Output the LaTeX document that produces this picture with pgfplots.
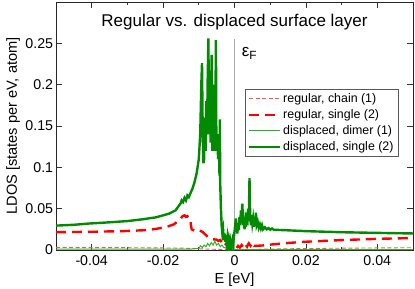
\documentclass[border=0pt]{standalone}
\usepackage{pgfplots}
\pgfplotsset{compat=1.18}
\usepackage{fontspec}
\setmainfont{Liberation Sans}
\usetikzlibrary{calc}
\definecolor{ggreen}{RGB}{0,139,0}
\definecolor{lgreen}{RGB}{40,180,40}
\definecolor{gred}{RGB}{255,0,0}
\definecolor{lred}{RGB}{255,80,80}
\definecolor{fgray}{RGB}{170,170,170}
\begin{document}
\begin{tikzpicture}
\begin{axis}[
  scale only axis,
  width=357pt, height=248pt,
  xmin=-0.05, xmax=0.05, ymin=0, ymax=0.3,
  scaled ticks=false,
  axis line style={black!85, line width=0.9pt},
  tick align=inside,
  major tick length=6pt, minor tick length=3.5pt,
  every tick/.style={black!80, line width=0.7pt},
  xtick={-0.04,-0.02,0,0.02,0.04},
  xticklabels={-0.04,-0.02,0,0.02,0.04},
  minor xtick={-0.05,-0.03,-0.01,0.01,0.03,0.05},
  ytick={0,0.05,0.1,0.15,0.2,0.25},
  yticklabels={0,0.05,0.1,0.15,0.2,0.25},
  /pgf/number format/assume math mode=true,
  tick label style={font=\fontsize{14.2}{16}\selectfont},
  xticklabel style={anchor=base, yshift=-15pt, inner sep=0pt},
  yticklabel style={anchor=east, inner sep=0pt, xshift=-2.7pt},
  xlabel={E [eV]},
  ylabel={LDOS [states per eV, atom]},
  label style={font=\fontsize{14.6}{17}\selectfont},
  xlabel style={at={(axis description cs:0.5,-0.134)}, anchor=base, inner sep=0pt},
  ylabel style={at={(axis description cs:-0.1204,0.5)}, anchor=center, inner sep=0pt},
  legend style={at={(axis description cs:0.96,0.648)}, anchor=north east,
    font=\fontsize{12.4}{14}\selectfont, draw=black!65,
    inner xsep=3pt, inner ysep=2pt, row sep=1.6pt, fill=white},
  legend cell align=left,
  legend image code/.code={\draw[#1] (0pt,0pt) -- (31pt,0pt);},
  clip=true,
]
\addplot[fgray, line width=1.3pt, forget plot] coordinates {(0,0) (0,0.255)};
% regular, chain (1)
\addplot[lred, line width=0.9pt, dash pattern=on 4pt off 2.5pt] coordinates {
(-0.05,0.0030) (-0.04,0.0029) (-0.03,0.0028) (-0.02,0.0025) (-0.015,0.0023) (-0.012,0.0019)
(-0.01,0.0015) (-0.0075,0.0011) (-0.005,0.0008) (-0.0025,0.0005) (0,0.0003) (0.0025,0.0005)
(0.005,0.0008) (0.01,0.0012) (0.02,0.0018) (0.03,0.0022) (0.04,0.0025) (0.05,0.0028)};
\addlegendentry{regular, chain (1)}
% regular, single (2)
\addplot[gred, line width=2.4pt, dash pattern=on 10pt off 6pt] coordinates {
(-0.05,0.0215) (-0.04,0.0220) (-0.03,0.0230) (-0.025,0.0240) (-0.022,0.0255) (-0.019,0.0280)
(-0.017,0.0310) (-0.0155,0.0360) (-0.0145,0.0410) (-0.0140,0.0420) (-0.0136,0.0400)
(-0.0132,0.0410) (-0.0128,0.0390) (-0.0124,0.0380) (-0.0122,0.0300) (-0.0120,0.0250)
(-0.0115,0.0240) (-0.0110,0.0230) (-0.0100,0.0240) (-0.0095,0.0230) (-0.0090,0.0220)
(-0.0085,0.0200) (-0.0080,0.0180) (-0.0075,0.0160) (-0.0070,0.0150) (-0.0060,0.0130)
(-0.0050,0.0125) (-0.0045,0.0110) (-0.0040,0.0120) (-0.0035,0.0090) (-0.0030,0.0110)
(-0.0025,0.0070) (-0.0020,0.0080) (-0.0015,0.0050) (-0.0010,0.0060) (-0.0005,0.0030)
(0.0000,0.0040) (0.0005,0.0020) (0.0010,0.0050) (0.0015,0.0030) (0.0020,0.0060)
(0.0025,0.0030) (0.0030,0.0070) (0.0035,0.0040) (0.0040,0.0080) (0.0045,0.0050)
(0.0050,0.0090) (0.0055,0.0050) (0.0060,0.0050) (0.0080,0.0055) (0.0100,0.0065)
(0.0150,0.0085) (0.0200,0.0100) (0.0300,0.0120) (0.0400,0.0135) (0.0500,0.0145)};
\addlegendentry{regular, single (2)}
% displaced, dimer (1)
\addplot[lgreen, line width=1pt] coordinates {
(-0.05,0.0010) (-0.03,0.0010) (-0.015,0.0011) (-0.012,0.0012) (-0.010,0.0020) (-0.0095,0.0050)
(-0.009,0.0030) (-0.0085,0.0060) (-0.008,0.0040) (-0.0075,0.0080) (-0.007,0.0050)
(-0.0065,0.0090) (-0.006,0.0060) (-0.0055,0.0105) (-0.005,0.0060) (-0.0045,0.0080)
(-0.004,0.0040) (-0.0035,0.0060) (-0.003,0.0030) (-0.002,0.0020) (-0.001,0.0010)
(0,0.0005) (0.002,0.0008) (0.005,0.0005) (0.01,0.0005) (0.03,0.0005) (0.05,0.0005)};
\addlegendentry{displaced, dimer (1)}
% displaced, single (2)
\addplot[ggreen, line width=2.4pt] coordinates {
(-0.05,0.0295) (-0.045,0.0305) (-0.0408,0.0320) (-0.035,0.0335) (-0.030,0.0350)
(-0.026,0.0370) (-0.022,0.0395) (-0.0183,0.0440) (-0.0165,0.0480) (-0.0155,0.0540)
(-0.0150,0.0570) (-0.0148,0.0600) (-0.0144,0.0580) (-0.0140,0.0630) (-0.0136,0.0600)
(-0.0132,0.0660) (-0.0128,0.0640) (-0.0124,0.0680) (-0.0118,0.0740) (-0.0112,0.0820)
(-0.0106,0.0930) (-0.0100,0.1100) (-0.0096,0.1400) (-0.0093,0.2000) (-0.0091,0.2260)
(-0.0089,0.1400) (-0.0087,0.1050) (-0.0085,0.1100) (-0.0083,0.1600) (-0.0081,0.1200)
(-0.0079,0.1800) (-0.0077,0.1400) (-0.0075,0.2100) (-0.0073,0.2560) (-0.0072,0.1700)
(-0.0071,0.1400) (-0.0070,0.1900) (-0.0069,0.1500) (-0.0068,0.2000) (-0.0067,0.1300)
(-0.0066,0.1700) (-0.0064,0.2360) (-0.0063,0.1500) (-0.0062,0.1200) (-0.0061,0.1800)
(-0.0060,0.1400) (-0.0059,0.2000) (-0.0058,0.1300) (-0.0057,0.1600) (-0.0055,0.1200)
(-0.0053,0.2000) (-0.0052,0.2540) (-0.0051,0.1500) (-0.0050,0.1200) (-0.0048,0.1400)
(-0.0046,0.1100) (-0.0044,0.1300) (-0.0042,0.0900) (-0.0041,0.1580) (-0.0040,0.0800)
(-0.0038,0.0500) (-0.0036,0.0300) (-0.0034,0.0200) (-0.0032,0.0250) (-0.0030,0.0120)
(-0.0028,0.0200) (-0.0026,0.0100) (-0.0024,0.0180) (-0.0022,0.0080) (-0.0020,0.0150)
(-0.0018,0.0060) (-0.0016,0.0120) (-0.0014,0.0040) (-0.0012,0.0100) (-0.0010,0.0030)
(-0.0008,0.0080) (-0.0006,0.0120) (-0.0004,0.0060) (-0.0002,0.0150) (0.0000,0.0220)
(0.0002,0.0300) (0.0004,0.0380) (0.0006,0.0280) (0.0008,0.0200) (0.0010,0.0320)
(0.0012,0.0240) (0.0014,0.0400) (0.0016,0.0300) (0.0018,0.0480) (0.0020,0.0350)
(0.0022,0.0560) (0.0024,0.0300) (0.0026,0.0400) (0.0028,0.0250) (0.0030,0.0350)
(0.0032,0.0280) (0.0034,0.0450) (0.0036,0.0300) (0.0038,0.0500) (0.0040,0.0350)
(0.0042,0.0870) (0.0044,0.0400) (0.0046,0.0300) (0.0048,0.0420) (0.0050,0.0320)
(0.0052,0.0380) (0.0054,0.0280) (0.0056,0.0400) (0.0058,0.0300) (0.0060,0.0450)
(0.0062,0.0300) (0.0065,0.0340) (0.0068,0.0270) (0.0071,0.0310) (0.0074,0.0260)
(0.0077,0.0300) (0.0080,0.0250) (0.0085,0.0275) (0.0090,0.0250) (0.0095,0.0265)
(0.0100,0.0245) (0.0105,0.0260) (0.0110,0.0245) (0.0150,0.0238) (0.0200,0.0228)
(0.0300,0.0215) (0.0400,0.0207) (0.0500,0.0200)};
\addlegendentry{displaced, single (2)}
\node[anchor=base, font=\fontsize{17}{20}\selectfont, inner sep=0pt]
  at (axis description cs:0.5,0.900) {Regular vs. displaced surface layer};
\node[anchor=base west, font=\fontsize{17}{20}\selectfont, inner sep=0pt]
  at (axis cs:0.0020,0.2337) {ε\textsubscript{F}};
\end{axis}
\pgfresetboundingbox
\path[use as bounding box] ($(current axis.south west)+(-56pt,-38pt)$) rectangle ($(current axis.north east)+(2pt,2pt)$);
\end{tikzpicture}
\end{document}
